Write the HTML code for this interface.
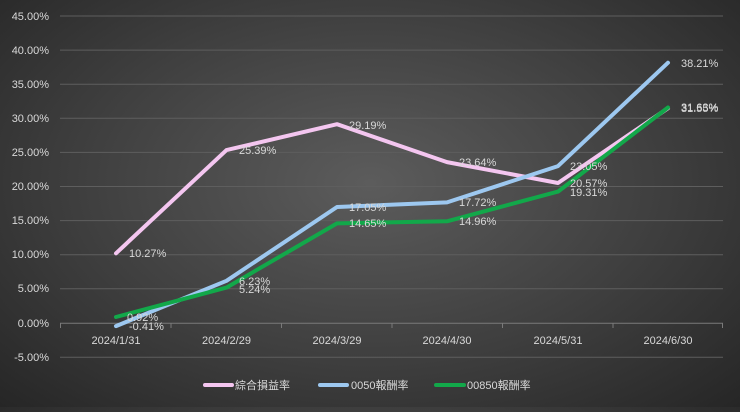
<!DOCTYPE html>
<html><head><meta charset="utf-8"><style>
html,body{margin:0;padding:0}
body{width:740px;height:407px;overflow:hidden;background:radial-gradient(ellipse at 50% 45%,#5c5c5c 0%,#3f3f3f 55%,#262626 100%);}
text{font-family:"Liberation Sans","Noto Sans CJK TC",sans-serif;font-size:11px;fill:#d9d9d9}
</style></head><body>
<svg width="740" height="407" xmlns="http://www.w3.org/2000/svg">
<g stroke="#5e5e5e" stroke-width="1">
<line x1="60" x2="723" y1="16" y2="16"/><line x1="60" x2="723" y1="50.1" y2="50.1"/>
<line x1="60" x2="723" y1="84.2" y2="84.2"/><line x1="60" x2="723" y1="118.3" y2="118.3"/>
<line x1="60" x2="723" y1="152.4" y2="152.4"/><line x1="60" x2="723" y1="186.5" y2="186.5"/>
<line x1="60" x2="723" y1="220.6" y2="220.6"/><line x1="60" x2="723" y1="254.7" y2="254.7"/>
<line x1="60" x2="723" y1="288.8" y2="288.8"/><line x1="60" x2="723" y1="357.3" y2="357.3"/>
</g>
<g stroke="#7a7a7a" stroke-width="1">
<line x1="60" x2="723" y1="323.3" y2="323.3"/>
<line x1="60.5" x2="60.5" y1="323" y2="328"/><line x1="171" x2="171" y1="323" y2="328"/><line x1="281.5" x2="281.5" y1="323" y2="328"/><line x1="392" x2="392" y1="323" y2="328"/><line x1="502.5" x2="502.5" y1="323" y2="328"/><line x1="613" x2="613" y1="323" y2="328"/><line x1="722.5" x2="722.5" y1="323" y2="328"/>
</g>
<g text-anchor="end">
<text x="49" y="20">45.00%</text><text x="49" y="54">40.00%</text><text x="49" y="88">35.00%</text>
<text x="49" y="122">30.00%</text><text x="49" y="156">25.00%</text><text x="49" y="190">20.00%</text>
<text x="49" y="224">15.00%</text><text x="49" y="258">10.00%</text><text x="49" y="292">5.00%</text>
<text x="49" y="327">0.00%</text><text x="49" y="361">-5.00%</text>
</g>
<g text-anchor="middle">
<text x="116" y="344">2024/1/31</text><text x="226.5" y="344">2024/2/29</text><text x="337" y="344">2024/3/29</text>
<text x="447" y="344">2024/4/30</text><text x="558" y="344">2024/5/31</text><text x="668" y="344">2024/6/30</text>
</g>
<g fill="none" stroke-width="4" stroke-linejoin="round" stroke-linecap="round">
<polyline stroke="#f4c6f0" points="116,253.3 226.5,150.1 337,124.2 447,162.1 558,183.0 668,108.2"/>
<polyline stroke="#9dc8f0" points="116,326.1 226.5,280.8 337,207.0 447,202.4 558,166.1 668,62.7"/>
<polyline stroke="#12a84a" points="116,317.0 226.5,287.6 337,223.4 447,221.3 558,191.6 668,107.5"/>
</g>
<text x="129" y="257">10.27%</text><text x="239" y="154">25.39%</text><text x="349" y="129">29.19%</text>
<text x="459" y="166">23.64%</text><text x="570" y="187">20.57%</text><text x="681" y="112">31.55%</text>
<text x="129" y="330">-0.41%</text><text x="239" y="285">6.23%</text><text x="349" y="211">17.05%</text>
<text x="459" y="206">17.72%</text><text x="570" y="170">23.05%</text><text x="681" y="67">38.21%</text>
<text x="127" y="321">0.92%</text><text x="239" y="293">5.24%</text><text x="349" y="227">14.65%</text>
<text x="459" y="225">14.96%</text><text x="570" y="196">19.31%</text><text x="681" y="111">31.63%</text>
<g stroke-width="4" stroke-linecap="round">
<line x1="205" x2="232" y1="385" y2="385" stroke="#f4c6f0"/>
<line x1="320" x2="347" y1="385" y2="385" stroke="#9dc8f0"/>
<line x1="436" x2="464" y1="385" y2="385" stroke="#12a84a"/>
</g>
<text x="235" y="389">綜合損益率</text><text x="351" y="389">0050報酬率</text><text x="467" y="389">00850報酬率</text>
</svg>
</body></html>
